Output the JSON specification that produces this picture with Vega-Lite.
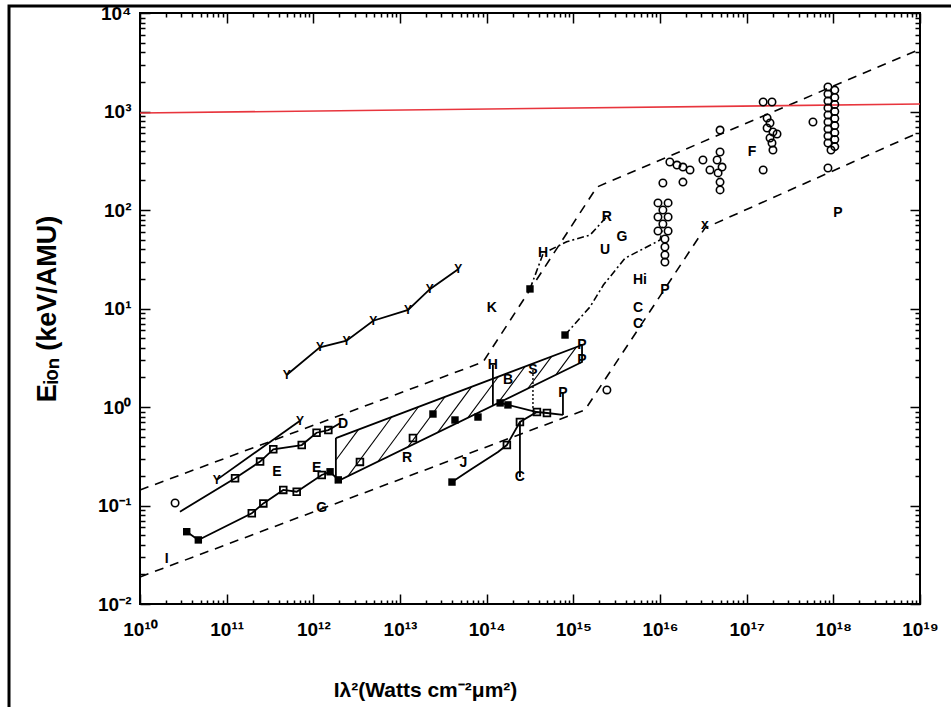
{
  "$schema": "https://vega.github.io/schema/vega-lite/v6.json",
  "width": 780,
  "height": 591,
  "autosize": {"type": "none"},
  "padding": {"left": 140, "top": 13, "right": 31, "bottom": 103},
  "background": "white",
  "config": {
    "view": {"stroke": "black", "strokeWidth": 2},
    "axis": {"domain": false, "grid": false, "tickColor": "black", "tickWidth": 1.5, "labelColor": "black", "labelFont": "Liberation Sans", "labelFontSize": 19, "labelFontWeight": "bold", "titleFont": "Liberation Sans", "titleFontSize": 20, "titleColor": "black", "titleFontWeight": "bold"}
  },
  "datasets": {
    "frame": [{"o": 1, "x": 3.08e8, "y": 0.00084}, {"o": 2, "x": 3.08e8, "y": 11780}, {"o": 3, "x": 3e19, "y": 11780}],
    "env": [
      {"s": "up", "o": 1, "x": 1e10, "y": 0.1436}, {"s": "up", "o": 2, "x": 9.07e13, "y": 2.86}, {"s": "up", "o": 3, "x": 1.87e15, "y": 171}, {"s": "up", "o": 4, "x": 1e19, "y": 4300},
      {"s": "lo", "o": 1, "x": 1e10, "y": 0.0188}, {"s": "lo", "o": 2, "x": 1.36e15, "y": 0.933}, {"s": "lo", "o": 3, "x": 3.30e16, "y": 65.6}, {"s": "lo", "o": 4, "x": 1e19, "y": 619}
    ],
    "red": [{"o": 1, "x": 1e10, "y": 966}, {"o": 2, "x": 1e19, "y": 1190}],
    "para": [{"o": 1, "x": 1.82e12, "y": 0.484}, {"o": 2, "x": 1.26e15, "y": 4.26}, {"o": 3, "x": 1.26e15, "y": 2.86}, {"o": 4, "x": 1.82e12, "y": 0.173}, {"o": 5, "x": 1.82e12, "y": 0.484}],
    "hatch": [
      {"h": 0, "o": 1, "x": 1.826e12, "y": 0.290}, {"h": 0, "o": 2, "x": 3.327e12, "y": 0.592},
      {"h": 1, "o": 1, "x": 2.512e12, "y": 0.199}, {"h": 1, "o": 2, "x": 8.054e12, "y": 0.796},
      {"h": 2, "o": 1, "x": 5.572e12, "y": 0.280}, {"h": 2, "o": 2, "x": 1.633e13, "y": 1.005},
      {"h": 3, "o": 1, "x": 1.236e13, "y": 0.394}, {"h": 3, "o": 2, "x": 3.311e13, "y": 1.27},
      {"h": 4, "o": 1, "x": 2.742e13, "y": 0.555}, {"h": 4, "o": 2, "x": 6.714e13, "y": 1.61},
      {"h": 5, "o": 1, "x": 6.081e13, "y": 0.780}, {"h": 5, "o": 2, "x": 1.361e14, "y": 2.03},
      {"h": 6, "o": 1, "x": 1.352e14, "y": 1.10}, {"h": 6, "o": 2, "x": 2.761e14, "y": 2.56},
      {"h": 7, "o": 1, "x": 2.999e14, "y": 1.55}, {"h": 7, "o": 2, "x": 5.598e14, "y": 3.25},
      {"h": 8, "o": 1, "x": 6.310e14, "y": 2.13}, {"h": 8, "o": 2, "x": 1.084e15, "y": 4.06}
    ],
    "solid": [
      {"s": "s1", "o": 1, "x": 2.89e10, "y": 0.0865}, {"s": "s1", "o": 2, "x": 1.25e11, "y": 0.189}, {"s": "s1", "o": 3, "x": 2.43e11, "y": 0.279}, {"s": "s1", "o": 4, "x": 3.45e11, "y": 0.372}, {"s": "s1", "o": 5, "x": 7.35e11, "y": 0.411}, {"s": "s1", "o": 6, "x": 1.09e12, "y": 0.548}, {"s": "s1", "o": 7, "x": 1.49e12, "y": 0.583}, {"s": "s1", "o": 8, "x": 2.03e12, "y": 0.683},
      {"s": "V", "o": 1, "x": 7.67e10, "y": 0.182}, {"s": "V", "o": 2, "x": 7.02e11, "y": 0.726},
      {"s": "s2", "o": 1, "x": 3.46e10, "y": 0.0542}, {"s": "s2", "o": 2, "x": 4.71e10, "y": 0.0447}, {"s": "s2", "o": 3, "x": 1.95e11, "y": 0.0834}, {"s": "s2", "o": 4, "x": 2.65e11, "y": 0.105}, {"s": "s2", "o": 5, "x": 4.50e11, "y": 0.144}, {"s": "s2", "o": 6, "x": 6.43e11, "y": 0.138}, {"s": "s2", "o": 7, "x": 1.25e12, "y": 0.204}, {"s": "s2", "o": 8, "x": 1.56e12, "y": 0.220}, {"s": "s2", "o": 9, "x": 1.94e12, "y": 0.182},
      {"s": "Y", "o": 1, "x": 4.92e11, "y": 2.11}, {"s": "Y", "o": 2, "x": 1.19e12, "y": 4.04}, {"s": "Y", "o": 3, "x": 2.42e12, "y": 4.71}, {"s": "Y", "o": 4, "x": 4.91e12, "y": 7.52}, {"s": "Y", "o": 5, "x": 1.24e13, "y": 9.66}, {"s": "Y", "o": 6, "x": 2.21e13, "y": 15.7}, {"s": "Y", "o": 7, "x": 4.69e13, "y": 25.0},
      {"s": "J", "o": 1, "x": 3.98e13, "y": 0.173}, {"s": "J", "o": 2, "x": 6.43e13, "y": 0.229}, {"s": "J", "o": 3, "x": 1.35e14, "y": 0.349}, {"s": "J", "o": 4, "x": 1.71e14, "y": 0.411}, {"s": "J", "o": 5, "x": 2.42e14, "y": 0.705}, {"s": "J", "o": 6, "x": 3.80e14, "y": 0.889}, {"s": "J", "o": 7, "x": 4.96e14, "y": 0.869}, {"s": "J", "o": 8, "x": 7.59e14, "y": 0.830},
      {"s": "link", "o": 1, "x": 1.43e14, "y": 1.10}, {"s": "link", "o": 2, "x": 3.80e14, "y": 0.889},
      {"s": "vH", "o": 1, "x": 1.18e14, "y": 2.67}, {"s": "vH", "o": 2, "x": 1.18e14, "y": 1.05},
      {"s": "vC", "o": 1, "x": 2.42e14, "y": 0.705}, {"s": "vC", "o": 2, "x": 2.42e14, "y": 0.195},
      {"s": "vP", "o": 1, "x": 7.59e14, "y": 1.39}, {"s": "vP", "o": 2, "x": 7.59e14, "y": 0.830}
    ],
    "dotted": [{"s": "vS", "o": 1, "x": 3.42e14, "y": 2.38}, {"s": "vS", "o": 2, "x": 3.42e14, "y": 0.869}],
    "dashdot": [
      {"s": "arrow", "o": 1, "x": 8.02e14, "y": 5.38}, {"s": "arrow", "o": 2, "x": 1.56e15, "y": 10.4}, {"s": "arrow", "o": 3, "x": 2.22e15, "y": 17.3}, {"s": "arrow", "o": 4, "x": 3.95e15, "y": 32.4}, {"s": "arrow", "o": 5, "x": 1.0e16, "y": 49.5}, {"s": "arrow", "o": 6, "x": 1.08e16, "y": 67.6},
      {"s": "K", "o": 1, "x": 3.16e14, "y": 15.8}, {"s": "K", "o": 2, "x": 4.50e14, "y": 36.3}, {"s": "K", "o": 3, "x": 8.38e14, "y": 47.6}, {"s": "K", "o": 4, "x": 1.56e15, "y": 55.7}, {"s": "K", "o": 5, "x": 2.43e15, "y": 85.5}
    ],
    "circles": [
      {"x": 2.54e10, "y": 0.106}, {"x": 2.44e15, "y": 1.49},
      {"x": 9.48e15, "y": 118}, {"x": 1.24e16, "y": 118}, {"x": 1.08e16, "y": 100}, {"x": 9.48e15, "y": 84.9}, {"x": 1.24e16, "y": 84.9}, {"x": 1.08e16, "y": 72.1}, {"x": 9.48e15, "y": 61.2}, {"x": 1.24e16, "y": 61.2}, {"x": 1.14e16, "y": 50.8}, {"x": 1.14e16, "y": 42.1}, {"x": 1.14e16, "y": 34.9}, {"x": 1.14e16, "y": 29.6},
      {"x": 1.08e16, "y": 188}, {"x": 1.84e16, "y": 192}, {"x": 1.30e16, "y": 307}, {"x": 1.57e16, "y": 286}, {"x": 1.84e16, "y": 273}, {"x": 2.22e16, "y": 255}, {"x": 3.13e16, "y": 322}, {"x": 3.77e16, "y": 255},
      {"x": 4.93e16, "y": 648}, {"x": 4.93e16, "y": 388}, {"x": 4.56e16, "y": 322}, {"x": 5.20e16, "y": 273}, {"x": 4.68e16, "y": 238}, {"x": 4.93e16, "y": 192}, {"x": 4.93e16, "y": 160},
      {"x": 1.55e17, "y": 255},
      {"x": 1.55e17, "y": 1248}, {"x": 1.96e17, "y": 1248}, {"x": 1.72e17, "y": 859}, {"x": 1.86e17, "y": 764}, {"x": 1.72e17, "y": 680}, {"x": 2.01e17, "y": 619}, {"x": 2.24e17, "y": 591}, {"x": 1.86e17, "y": 538}, {"x": 1.96e17, "y": 479}, {"x": 2.01e17, "y": 406},
      {"x": 8.67e17, "y": 1774}, {"x": 1.04e18, "y": 1650}, {"x": 8.67e17, "y": 1507}, {"x": 1.04e18, "y": 1390}, {"x": 8.67e17, "y": 1280}, {"x": 1.04e18, "y": 1180}, {"x": 8.67e17, "y": 1087}, {"x": 1.04e18, "y": 1000}, {"x": 8.67e17, "y": 921}, {"x": 1.04e18, "y": 850}, {"x": 8.67e17, "y": 782}, {"x": 1.04e18, "y": 720}, {"x": 8.67e17, "y": 664}, {"x": 1.04e18, "y": 610}, {"x": 8.67e17, "y": 564}, {"x": 1.04e18, "y": 520}, {"x": 8.67e17, "y": 479}, {"x": 1.04e18, "y": 440}, {"x": 9.40e17, "y": 406},
      {"x": 5.82e17, "y": 782}, {"x": 8.67e17, "y": 267}
    ],
    "squares": [
      {"x": 1.25e11, "y": 0.189}, {"x": 2.43e11, "y": 0.279}, {"x": 3.45e11, "y": 0.372}, {"x": 7.35e11, "y": 0.411}, {"x": 1.09e12, "y": 0.548}, {"x": 1.49e12, "y": 0.583},
      {"x": 1.95e11, "y": 0.0834}, {"x": 2.65e11, "y": 0.105}, {"x": 4.50e11, "y": 0.144}, {"x": 6.43e11, "y": 0.138}, {"x": 1.25e12, "y": 0.204},
      {"x": 3.45e12, "y": 0.277}, {"x": 1.41e13, "y": 0.484}, {"x": 2.42e14, "y": 0.705}, {"x": 3.80e14, "y": 0.889}, {"x": 4.96e14, "y": 0.869}, {"x": 1.71e14, "y": 0.411}
    ],
    "filled": [
      {"x": 2.40e13, "y": 0.849}, {"x": 4.31e13, "y": 0.738}, {"x": 7.94e13, "y": 0.791}, {"x": 1.43e14, "y": 1.10}, {"x": 1.76e14, "y": 1.05}, {"x": 3.98e13, "y": 0.173}, {"x": 3.16e14, "y": 15.8}, {"x": 8.02e14, "y": 5.38}, {"x": 3.46e10, "y": 0.0542}, {"x": 4.71e10, "y": 0.0447}, {"x": 1.94e12, "y": 0.182}, {"x": 1.56e12, "y": 0.220}
    ],
    "ymarks": [
      {"t": "Y", "x": 4.92e11, "y": 2.11}, {"t": "Y", "x": 1.19e12, "y": 4.04}, {"t": "Y", "x": 2.42e12, "y": 4.71}, {"t": "Y", "x": 4.91e12, "y": 7.52}, {"t": "Y", "x": 1.24e13, "y": 9.66}, {"t": "Y", "x": 2.21e13, "y": 15.7}, {"t": "Y", "x": 4.69e13, "y": 25.0},
      {"t": "Y", "x": 7.67e10, "y": 0.182}, {"t": "Y", "x": 7.02e11, "y": 0.726}
    ],
    "letters": [
      {"t": "I", "x": 2.03e10, "y": 0.0286}, {"t": "E", "x": 3.81e11, "y": 0.219}, {"t": "E", "x": 1.09e12, "y": 0.240}, {"t": "G", "x": 1.25e12, "y": 0.0944}, {"t": "D", "x": 2.20e12, "y": 0.671},
      {"t": "R", "x": 1.21e13, "y": 0.303}, {"t": "J", "x": 5.38e13, "y": 0.270}, {"t": "H", "x": 1.18e14, "y": 2.67}, {"t": "B", "x": 1.76e14, "y": 1.88}, {"t": "S", "x": 3.42e14, "y": 2.38},
      {"t": "P", "x": 1.26e15, "y": 4.26}, {"t": "P", "x": 1.26e15, "y": 3.0}, {"t": "P", "x": 7.59e14, "y": 1.39}, {"t": "C", "x": 2.42e14, "y": 0.195}, {"t": "K", "x": 1.15e14, "y": 10.1},
      {"t": "H", "x": 4.47e14, "y": 36.6}, {"t": "R", "x": 2.44e15, "y": 84.9}, {"t": "U", "x": 2.32e15, "y": 39.3}, {"t": "G", "x": 3.64e15, "y": 53.2}, {"t": "Hi", "x": 5.87e15, "y": 19.5},
      {"t": "C", "x": 5.57e15, "y": 10.2}, {"t": "C", "x": 5.57e15, "y": 6.9}, {"t": "P", "x": 1.14e16, "y": 15.4}, {"t": "F", "x": 1.15e17, "y": 388}, {"t": "P", "x": 1.13e18, "y": 93.3}, {"t": "x", "x": 3.30e16, "y": 70.5}
    ]
  },
  "resolve": {"scale": {"x": "shared", "y": "shared"}, "axis": {"x": "independent", "y": "independent"}},
  "encoding": {
    "x": {"field": "x", "type": "quantitative", "scale": {"type": "log", "domain": [1e10, 1e19], "nice": false}, "axis": null},
    "y": {"field": "y", "type": "quantitative", "scale": {"type": "log", "domain": [0.01, 10000], "nice": false}, "axis": null}
  },
  "layer": [
    {
      "data": {"name": "frame"},
      "mark": {"type": "line", "color": "black", "strokeWidth": 3, "clip": false},
      "encoding": {"order": {"field": "o"}}
    },
    {
      "data": {"name": "env"},
      "mark": {"type": "line", "color": "black", "strokeWidth": 1.6, "strokeDash": [9, 7]},
      "encoding": {
        "x": {"field": "x", "type": "quantitative", "scale": {"type": "log", "domain": [1e10, 1e19], "nice": false},
          "axis": {"orient": "bottom", "values": [1e10, 1e11, 1e12, 1e13, 1e14, 1e15, 1e16, 1e17, 1e18, 1e19], "labelExpr": "['10¹⁰','10¹¹','10¹²','10¹³','10¹⁴','10¹⁵','10¹⁶','10¹⁷','10¹⁸','10¹⁹'][round(log(datum.value)/LN10)-10]", "tickSize": -10, "labelPadding": 26, "labelAlign": "center", "labelDx": 12, "labelFlush": false, "labelOverlap": false, "title": "Iλ²(Watts cm⁻²μm²)", "titleFontSize": 21, "titlePadding": 40, "titleX": 285}},
        "y": {"field": "y", "type": "quantitative", "scale": {"type": "log", "domain": [0.01, 10000], "nice": false},
          "axis": {"orient": "left", "values": [0.01, 0.1, 1, 10, 100, 1000, 10000], "labelExpr": "['10⁻²','10⁻¹','10⁰','10¹','10²','10³','10⁴'][round(log(datum.value)/LN10)+2]", "tickSize": -10, "labelPadding": 19, "labelFlush": false, "labelOverlap": false, "title": "Eᵢₒₙ (keV/AMU)", "titleFontSize": 27, "titlePadding": 36}},
        "detail": {"field": "s"},
        "order": {"field": "o"}
      }
    },
    {
      "data": {"name": "red"},
      "mark": {"type": "line", "color": "#e8353d", "strokeWidth": 1.6},
      "encoding": {
        "x": {"field": "x", "type": "quantitative", "scale": {"type": "log", "domain": [1e10, 1e19], "nice": false},
          "axis": {"orient": "bottom", "values": [2e10,3e10,4e10,5e10,6e10,7e10,8e10,9e10,2e11,3e11,4e11,5e11,6e11,7e11,8e11,9e11,2e12,3e12,4e12,5e12,6e12,7e12,8e12,9e12,2e13,3e13,4e13,5e13,6e13,7e13,8e13,9e13,2e14,3e14,4e14,5e14,6e14,7e14,8e14,9e14,2e15,3e15,4e15,5e15,6e15,7e15,8e15,9e15,2e16,3e16,4e16,5e16,6e16,7e16,8e16,9e16,2e17,3e17,4e17,5e17,6e17,7e17,8e17,9e17,2e18,3e18,4e18,5e18,6e18,7e18,8e18,9e18], "labels": false, "tickSize": -4, "title": null}},
        "y": {"field": "y", "type": "quantitative", "scale": {"type": "log", "domain": [0.01, 10000], "nice": false},
          "axis": {"orient": "left", "values": [0.02,0.03,0.04,0.05,0.06,0.07,0.08,0.09,0.2,0.3,0.4,0.5,0.6,0.7,0.8,0.9,2,3,4,5,6,7,8,9,20,30,40,50,60,70,80,90,200,300,400,500,600,700,800,900,2000,3000,4000,5000,6000,7000,8000,9000], "labels": false, "tickSize": -5, "title": null}},
        "order": {"field": "o"}
      }
    },
    {
      "data": {"name": "para"},
      "mark": {"type": "line", "color": "black", "strokeWidth": 1.8},
      "encoding": {
        "x": {"field": "x", "type": "quantitative", "scale": {"type": "log", "domain": [1e10, 1e19], "nice": false},
          "axis": {"orient": "top", "values": [1e10, 1e11, 1e12, 1e13, 1e14, 1e15, 1e16, 1e17, 1e18, 1e19], "labels": false, "tickSize": -10, "title": null}},
        "y": {"field": "y", "type": "quantitative", "scale": {"type": "log", "domain": [0.01, 10000], "nice": false},
          "axis": {"orient": "right", "values": [0.01, 0.1, 1, 10, 100, 1000, 10000], "labels": false, "tickSize": -10, "title": null}},
        "order": {"field": "o"}
      }
    },
    {
      "data": {"name": "hatch"},
      "mark": {"type": "line", "color": "black", "strokeWidth": 1.1},
      "encoding": {
        "x": {"field": "x", "type": "quantitative", "scale": {"type": "log", "domain": [1e10, 1e19], "nice": false},
          "axis": {"orient": "top", "values": [2e10,3e10,4e10,5e10,6e10,7e10,8e10,9e10,2e11,3e11,4e11,5e11,6e11,7e11,8e11,9e11,2e12,3e12,4e12,5e12,6e12,7e12,8e12,9e12,2e13,3e13,4e13,5e13,6e13,7e13,8e13,9e13,2e14,3e14,4e14,5e14,6e14,7e14,8e14,9e14,2e15,3e15,4e15,5e15,6e15,7e15,8e15,9e15,2e16,3e16,4e16,5e16,6e16,7e16,8e16,9e16,2e17,3e17,4e17,5e17,6e17,7e17,8e17,9e17,2e18,3e18,4e18,5e18,6e18,7e18,8e18,9e18], "labels": false, "tickSize": -4, "title": null}},
        "y": {"field": "y", "type": "quantitative", "scale": {"type": "log", "domain": [0.01, 10000], "nice": false},
          "axis": {"orient": "right", "values": [0.02,0.03,0.04,0.05,0.06,0.07,0.08,0.09,0.2,0.3,0.4,0.5,0.6,0.7,0.8,0.9,2,3,4,5,6,7,8,9,20,30,40,50,60,70,80,90,200,300,400,500,600,700,800,900,2000,3000,4000,5000,6000,7000,8000,9000], "labels": false, "tickSize": -5, "title": null}},
        "detail": {"field": "h"},
        "order": {"field": "o"}
      }
    },
    {
      "data": {"name": "solid"},
      "mark": {"type": "line", "color": "black", "strokeWidth": 1.8},
      "encoding": {"detail": {"field": "s"}, "order": {"field": "o"}}
    },
    {
      "data": {"name": "dotted"},
      "mark": {"type": "line", "color": "black", "strokeWidth": 1.4, "strokeDash": [2, 2]},
      "encoding": {"detail": {"field": "s"}, "order": {"field": "o"}}
    },
    {
      "data": {"name": "dashdot"},
      "mark": {"type": "line", "color": "black", "strokeWidth": 1.6, "strokeDash": [7, 3, 2, 3]},
      "encoding": {"detail": {"field": "s"}, "order": {"field": "o"}}
    },
    {
      "data": {"name": "circles"},
      "mark": {"type": "point", "shape": "circle", "filled": false, "color": "black", "strokeWidth": 1.6, "size": 55, "opacity": 1}
    },
    {
      "data": {"name": "squares"},
      "mark": {"type": "point", "shape": "square", "filled": false, "color": "black", "strokeWidth": 1.8, "size": 45, "opacity": 1}
    },
    {
      "data": {"name": "filled"},
      "mark": {"type": "point", "shape": "square", "filled": true, "color": "black", "size": 55, "opacity": 1}
    },
    {
      "data": {"name": "ymarks"},
      "mark": {"type": "text", "font": "Liberation Sans", "fontWeight": "bold", "fontSize": 12, "color": "black", "baseline": "middle", "align": "center"},
      "encoding": {"text": {"field": "t"}}
    },
    {
      "data": {"name": "letters"},
      "mark": {"type": "text", "font": "Liberation Sans", "fontWeight": "bold", "fontSize": 14, "color": "black", "baseline": "middle", "align": "center"},
      "encoding": {"text": {"field": "t"}}
    }
  ]
}
